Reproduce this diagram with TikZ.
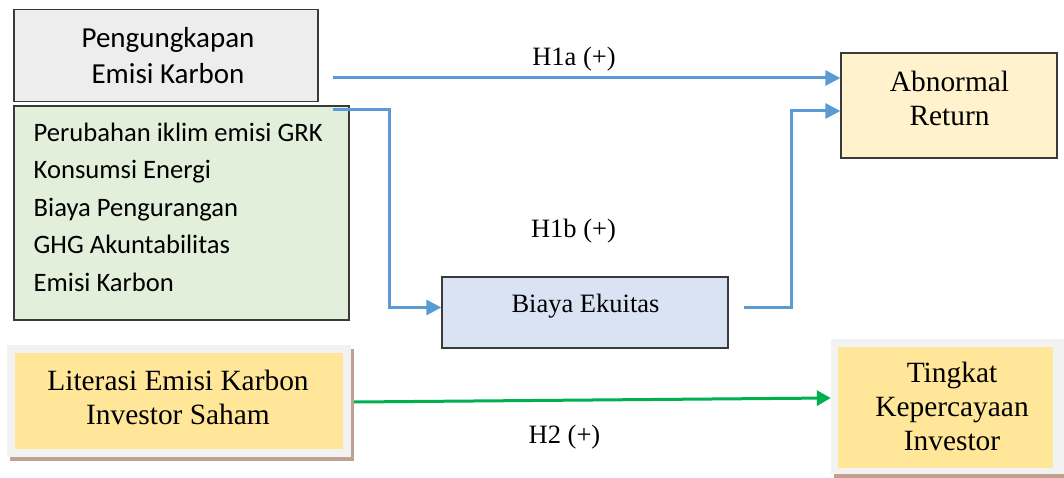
\documentclass[tikz,border=0pt]{standalone}
\usepackage{fontspec}
\setmainfont{Liberation Serif}
\newfontfamily\calfont{Carlito}
\usetikzlibrary{arrows.meta}
\definecolor{grayfill}{HTML}{EDEDED}
\definecolor{greenfill}{HTML}{E2EFDA}
\definecolor{yellowfill}{HTML}{FFF2CC}
\definecolor{bluefill}{HTML}{DAE3F3}
\definecolor{goldfill}{HTML}{FFE699}
\definecolor{framegray}{HTML}{F2F2F2}
\definecolor{shadowbrown}{HTML}{C0A18D}
\definecolor{arrowblue}{HTML}{5B9BD5}
\definecolor{arrowgreen}{HTML}{00B050}
\definecolor{edgegray}{HTML}{3A3A3A}
\begin{document}
\begin{tikzpicture}[x=1pt,y=-1pt,
  box/.style={draw=edgegray, line width=1.3pt, rectangle, inner sep=0pt},
  plain/.style={rectangle, inner sep=0pt},
  txt/.style={inner sep=0pt, align=center, font=\fontsize{29.4}{34}\selectfont},
  lbl/.style={inner sep=0pt, font=\fontsize{26.5}{30}\selectfont},
  bluearrow/.style={draw=arrowblue, line width=3pt, -{Triangle[length=15pt,width=15pt]}},
  greenarrow/.style={draw=arrowgreen, line width=3pt, -{Triangle[length=14pt,width=15pt]}},
  blueline/.style={draw=arrowblue, line width=3pt}
]
\useasboundingbox (0,0) rectangle (1064,478);
\fill[white] (0,0) rectangle (1064,478);

% Pengungkapan Emisi Karbon
\node[box, fill=grayfill, minimum width=304pt, minimum height=92pt] (pk) at (166,55.5) {};
\node[inner sep=0pt, align=center, font=\calfont\fontsize{29}{36}\selectfont] (pkt) at (168,55.7) {Pengungkapan\\Emisi Karbon};

% Indicator list
\node[box, fill=greenfill, minimum width=335pt, minimum height=214pt] (ind) at (181.5,213) {};
\node[inner sep=0pt, align=left, anchor=north west, font=\calfont\fontsize{26.6}{37.5}\selectfont] (indt) at (33.5,122.5)
  {Perubahan iklim emisi GRK\\Konsumsi Energi\\Biaya Pengurangan\\GHG Akuntabilitas\\Emisi Karbon};

% Abnormal Return
\node[box, fill=yellowfill, minimum width=216pt, minimum height=105pt] (ar) at (949,105.5) {};
\node[txt] (art) at (949.5,98.7) {Abnormal\\Return};

% Biaya Ekuitas
\node[box, fill=bluefill, minimum width=286pt, minimum height=71pt] (be) at (585,312.5) {};
\node[lbl] (bet) at (585.5,306) {Biaya Ekuitas};

% Literasi Emisi Karbon Investor Saham
\fill[shadowbrown] (10,349) rectangle (354,461);
\node[plain, fill=framegray, minimum width=344pt, minimum height=112pt] (litf) at (179,401) {};
\node[plain, fill=goldfill, minimum width=328pt, minimum height=96pt] (lit) at (179,401) {};
\node[txt] (litt) at (178,397.7) {Literasi Emisi Karbon\\Investor Saham};

% Tingkat Kepercayaan Investor
\begin{scope}
\clip (0,0) rectangle (1064,478);
\fill[shadowbrown] (834,343) rectangle (1072,478);
\node[plain, fill=framegray, minimum width=240pt, minimum height=135pt] (tkf) at (951,406.5) {};
\node[plain, fill=goldfill, minimum width=215pt, minimum height=121pt] (tk) at (945.5,407.5) {};
\end{scope}
\node[txt] (tkt) at (952,406.7) {Tingkat\\Kepercayaan\\Investor};

% connector end points
\coordinate (h1as) at (333,78);
\coordinate (h1bs) at (333,110);
\coordinate (h1bc) at (744,307.5);
\coordinate (h2s) at (354,402);

% H1a
\draw[bluearrow] (h1as) -- (h1as -| ar.west);
\node[lbl] (h1a) at (574,59.5) {H1a (+)};

% H1b
\draw[bluearrow] (h1bs) -| (389,200) |- (be.west |- h1bc);
\draw[bluearrow] (h1bc) -- (791,307.5) |- ([yshift=-5.5pt]ar.west);
\node[lbl] (h1b) at (573.5,231) {H1b (+)};

% H2
\draw[greenarrow] (h2s) -- (tkf.west |- 0,398);
\node[lbl] (h2) at (564.5,437) {H2 (+)};
\end{tikzpicture}
\end{document}
